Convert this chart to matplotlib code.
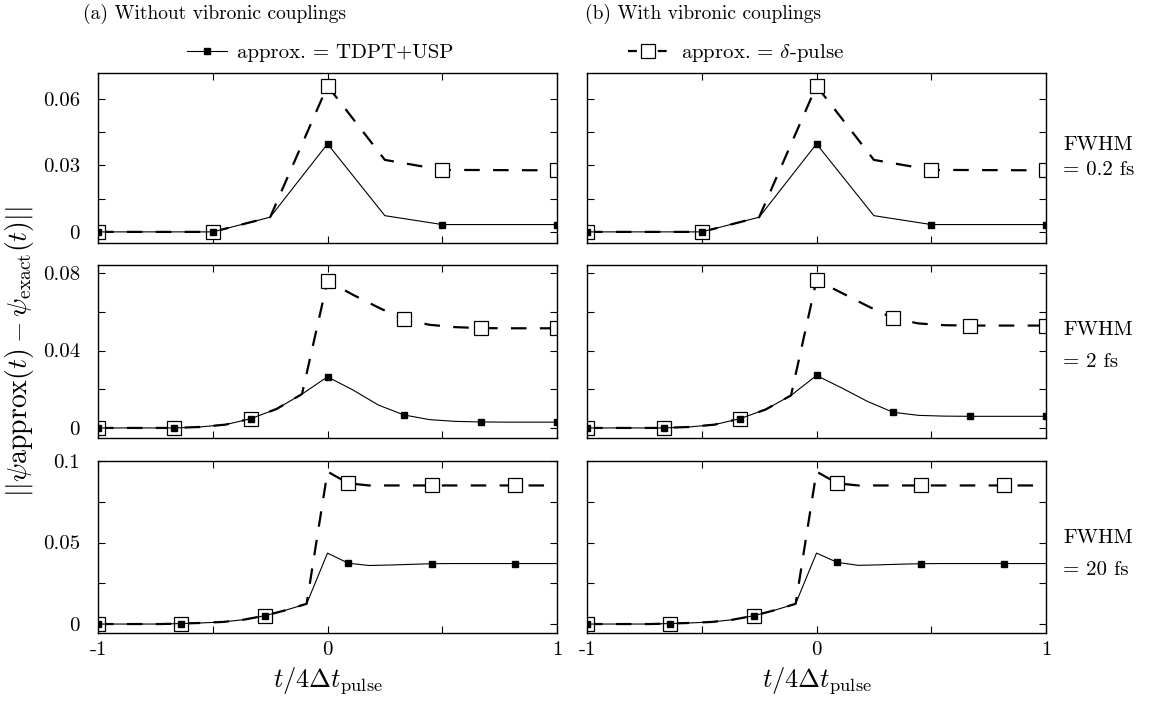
import numpy as np
import matplotlib
matplotlib.use("Agg")
import matplotlib.pyplot as plt
from matplotlib.lines import Line2D

plt.rcParams['font.family'] = 'serif'
plt.rcParams['font.serif'] = ['cmr10', 'DejaVu Serif']
plt.rcParams['mathtext.fontset'] = 'cm'
plt.rcParams['axes.unicode_minus'] = False
plt.rcParams['axes.formatter.use_mathtext'] = True

# sample grids (x = t / 4 dt_pulse) for each pulse width
x_02fs = np.linspace(-1, 1, 9)
x_2fs = np.linspace(-1, 1, 19)
x_20fs = np.linspace(-1, 1, 23)

# FWHM = 0.2 fs
usp_02_a = [0, 0, 0, 0.0066, 0.0396, 0.0073, 0.0033, 0.0033, 0.0033]
dlt_02_a = [0, 0, 0, 0.0066, 0.0657, 0.0324, 0.0279, 0.0278, 0.0277]
usp_02_b = [0, 0, 0, 0.0066, 0.0396, 0.0073, 0.0033, 0.0033, 0.0033]
dlt_02_b = [0, 0, 0, 0.0066, 0.0657, 0.0324, 0.0279, 0.0278, 0.0277]

# FWHM = 2 fs
usp_2_a = [0, 0, 0, 0, 0.0005, 0.0017, 0.0048, 0.0098, 0.0175, 0.0264,
           0.0196, 0.0118, 0.0067, 0.0043, 0.0034, 0.0031, 0.0030, 0.0030, 0.0030]
dlt_2_a = [0, 0, 0, 0, 0.0005, 0.0017, 0.0048, 0.0098, 0.0175, 0.0760,
           0.0688, 0.0622, 0.0561, 0.0533, 0.0521, 0.0516, 0.0515, 0.0515, 0.0515]
usp_2_b = [0, 0, 0, 0, 0.0005, 0.0017, 0.0048, 0.0095, 0.0168, 0.0271,
           0.0206, 0.0137, 0.0081, 0.0065, 0.0061, 0.0060, 0.0060, 0.0060, 0.0060]
dlt_2_b = [0, 0, 0, 0, 0.0005, 0.0017, 0.0048, 0.0095, 0.0168, 0.0764,
           0.0697, 0.0630, 0.0567, 0.0540, 0.0531, 0.0529, 0.0529, 0.0529, 0.0529]

# FWHM = 20 fs
usp_20_a = [0, 0, 0, 0, 0.0003, 0.0007, 0.0013, 0.0027, 0.0051, 0.0085, 0.0124, 0.0435,
            0.0373, 0.0359, 0.0362, 0.0366, 0.0370, 0.0371, 0.0371, 0.0371, 0.0371, 0.0371, 0.0371]
dlt_20_a = [0, 0, 0, 0, 0.0003, 0.0007, 0.0013, 0.0027, 0.0051, 0.0085, 0.0124, 0.0935,
            0.0863, 0.0850, 0.0850, 0.0850, 0.0850, 0.0850, 0.0850, 0.0850, 0.0850, 0.0850, 0.0850]
usp_20_b = [0, 0, 0, 0, 0.0003, 0.0007, 0.0013, 0.0027, 0.0051, 0.0085, 0.0124, 0.0435,
            0.0378, 0.0360, 0.0363, 0.0367, 0.0370, 0.0371, 0.0371, 0.0371, 0.0371, 0.0371, 0.0371]
dlt_20_b = [0, 0, 0, 0, 0.0003, 0.0007, 0.0013, 0.0027, 0.0051, 0.0085, 0.0124, 0.0935,
            0.0863, 0.0850, 0.0850, 0.0850, 0.0850, 0.0850, 0.0850, 0.0850, 0.0850, 0.0850, 0.0850]

rows = [
    (x_02fs, 2, (usp_02_a, dlt_02_a), (usp_02_b, dlt_02_b), (-0.005, 0.0715),
     [0, 0.015, 0.03, 0.045, 0.06], ['0', '', '0.03', '', '0.06'], '0.2 fs'),
    (x_2fs, 3, (usp_2_a, dlt_2_a), (usp_2_b, dlt_2_b), (-0.0052, 0.0842),
     [0, 0.02, 0.04, 0.06, 0.08], ['0', '', '0.04', '', '0.08'], '2 fs'),
    (x_20fs, 4, (usp_20_a, dlt_20_a), (usp_20_b, dlt_20_b), (-0.0055, 0.1),
     [0, 0.025, 0.05, 0.075, 0.1], ['0', '', '0.05', '', '0.1'], '20 fs'),
]

W, H = 1154, 704
fig = plt.figure(figsize=(W / 100, H / 100), dpi=100)

col_left = [98, 587]
col_w = 459
row_top = [73, 265, 461]
row_h = [170, 173, 172]
fwhm_y = [(145, 170), (330, 362), (538, 570)]

for r, (x, every, left, right, ylim, yt, ytl, fwhm) in enumerate(rows):
    for c, (usp, dlt) in enumerate([left, right]):
        ax = fig.add_axes([col_left[c] / W, 1 - (row_top[r] + row_h[r]) / H,
                           col_w / W, row_h[r] / H])
        ax.plot(x, dlt, color='black', lw=1.6, ls=(0, (7, 6)),
                marker='s', ms=10, mfc='white', mec='black', mew=0.9,
                markevery=every)
        ax.plot(x, usp, color='black', lw=0.8, marker='s', ms=4.5,
                mfc='black', mec='black', markevery=every)
        ax.set_xlim(-1, 1)
        ax.set_ylim(*ylim)
        ax.set_xticks([-1, -0.5, 0, 0.5, 1])
        ax.set_yticks(yt)
        if r == 2:
            ax.set_xticklabels(['-1', '', '0', '', '1'], fontsize=15)
            ax.set_xlabel(r'$t/4\Delta t_{\rm pulse}$', fontsize=19, labelpad=4)
        else:
            ax.set_xticklabels([])
        if c == 0:
            ax.set_yticklabels(ytl, fontsize=15)
        else:
            ax.set_yticklabels([])
        ax.tick_params(direction='in', length=5, width=0.8, top=True, right=True)
        ax.tick_params(axis='y', pad=13)
        ax.tick_params(axis='x', pad=6)
        for s in ax.spines.values():
            s.set_linewidth(1.0)
    fig.text(1063 / W, 1 - fwhm_y[r][0] / H, 'FWHM', fontsize=15, va='center')
    fig.text(1063 / W, 1 - fwhm_y[r][1] / H, '= ' + fwhm, fontsize=15, va='center')

fig.text(83 / W, 1 - 14 / H, '(a) Without vibronic couplings', fontsize=14, va='center')
fig.text(585 / W, 1 - 14 / H, '(b) With vibronic couplings', fontsize=14, va='center')

# legend proxies
h_usp = Line2D([], [], color='black', lw=0.8, marker='s', ms=4.5, mfc='black', mec='black')
h_dlt = Line2D([], [], color='black', lw=1.6, ls=(0, (4, 9.4)),
               marker='s', ms=10, mfc='white', mec='black', mew=0.9)

fig.legend(handles=[h_usp], labels=['approx. = TDPT+USP'],
           loc='center left', bbox_to_anchor=(187 / W, 1 - 53 / H), frameon=False,
           fontsize=15, handlelength=1.9, handletextpad=0.5, borderpad=0, borderaxespad=0)
fig.legend(handles=[h_dlt], labels=[r'approx. = $\delta$-pulse'],
           loc='center left', bbox_to_anchor=(628 / W, 1 - 53 / H), frameon=False,
           fontsize=15, handlelength=1.9, handletextpad=0.65, borderpad=0, borderaxespad=0)

fig.text(20 / W, 1 - 352 / H, r'$||\psi$approx$(t)-\psi_{\rm exact}(t)||$',
         fontsize=20, rotation=90, ha='center', va='center')

fig.savefig('out.png', dpi=100)
